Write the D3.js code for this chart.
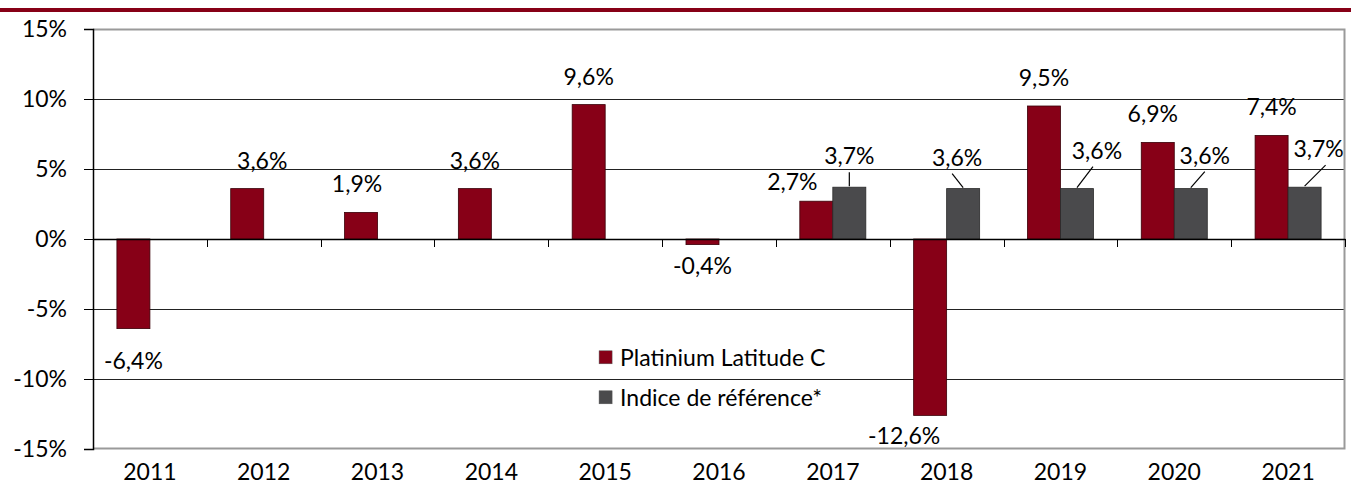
<!DOCTYPE html>
<html>
<head>
<meta charset="utf-8">
<script src="https://cdn.jsdelivr.net/npm/d3@7"></script>
<style>
  body { margin: 0; background: #fff; }
  svg { display: block; font-family: Lato, "DejaVu Sans", sans-serif; }
</style>
</head>
<body>
<div id="chart"></div>
<script>
// data
const years = ["2011", "2012", "2013", "2014", "2015", "2016", "2017", "2018", "2019", "2020", "2021"]
const fundValues = [-6.4, 3.6, 1.9, 3.6, 9.6, -0.4, 2.7, -12.6, 9.5, 6.9, 7.4]
const indexValues = [null, null, null, null, null, null, 3.7, 3.6, 3.6, 3.6, 3.7]
const yTicks = [15, 10, 5, 0, -5, -10, -15]
const seriesNames = ["Platinium Latitude C", "Indice de référence*"]

const red = "#870017", grey = "#4a4a4c"
const fs = 23

// hand placed labels in the original (pixel nudges)
const fundLabelDx = { "2012": 15, "2013": -4, "2017": -24, "2018": -26, "2020": -5 }
const indexLeader = {
    "2017": [0, -15], "2018": [-11, -15], "2019": [16, -22], "2020": [14, -17], "2021": [21, -22]
}
const indexLabelDx = { "2018": 5, "2019": 4, "2021": -7 }

const W = 1351, H = 494
const margin = { top: 29, right: 5, bottom: 45, left: 93 }
const width = W - margin.left - margin.right,
    height = H - margin.top - margin.bottom

const svg = d3.select("#chart").append("svg")
    .attr("width", W).attr("height", H)

// red band at the top
svg.append("rect").attr("x", 0).attr("y", 8).attr("width", W).attr("height", 4).attr("fill", red)

const g = svg.append("g").attr("transform", "translate(" + margin.left + "," + margin.top + ")")

const x = d3.scaleBand().domain(years).range([0, width - 1])
const y = d3.scaleLinear().domain([-15, 15]).range([height, 0])
const bw = x.bandwidth() * 0.29

// gridlines
g.selectAll(".grid").data(yTicks.filter(d => d !== 15 && d !== -15 && d !== 0)).join("line")
    .attr("x1", 0).attr("x2", width - 1)
    .attr("y1", d => Math.round(y(d)) + 0.5).attr("y2", d => Math.round(y(d)) + 0.5)
    .attr("stroke", "#222").attr("stroke-width", 1)

// frame: top, right, bottom in grey
g.append("path")
    .attr("d", `M0,0.5H${width - 1.5}V${height - 0.5}H0`)
    .attr("fill", "none").attr("stroke", "#9a9a9a").attr("stroke-width", 2)

// y axis
const yAxis = g.append("g")
    .call(d3.axisLeft(y).tickValues(yTicks).tickSize(9).tickFormat(d => d + "%"))
yAxis.select(".domain").attr("stroke", "#000").attr("stroke-width", 1.5)
yAxis.selectAll(".tick line").attr("stroke", "#000")
yAxis.selectAll(".tick text").attr("x", -26).attr("font-size", fs).attr("fill", "#000")
    .attr("font-family", "Lato, sans-serif")

// bars
const fund = years.map((yr, i) => ({ yr, v: fundValues[i] }))
const idx = years.map((yr, i) => ({ yr, v: indexValues[i] })).filter(d => d.v !== null)
const cx = yr => x(yr) + x.bandwidth() / 2

g.selectAll(".fund").data(fund).join("rect")
    .attr("x", d => cx(d.yr) - bw)
    .attr("y", d => y(Math.max(0, d.v)))
    .attr("width", bw)
    .attr("height", d => Math.abs(y(d.v) - y(0)))
    .attr("fill", red).attr("stroke", "#3a0008").attr("stroke-width", 0.8)

g.selectAll(".idx").data(idx).join("rect")
    .attr("x", d => cx(d.yr))
    .attr("y", d => y(d.v))
    .attr("width", bw)
    .attr("height", d => y(0) - y(d.v))
    .attr("fill", grey).attr("stroke", "#2a2a2a").attr("stroke-width", 0.8)

// zero line with category ticks
const xAxis = g.append("g").attr("transform", "translate(0," + y(0) + ")")
    .call(d3.axisBottom(x).tickValues([]).tickSizeOuter(0))
xAxis.select(".domain").attr("stroke", "#000").attr("stroke-width", 1.5)
g.selectAll(".sep").data(years.slice(1).concat(["end"])).join("line")
    .attr("x1", (d, i) => Math.round(x.step() * (i + 1)) + 0.5)
    .attr("x2", (d, i) => Math.round(x.step() * (i + 1)) + 0.5)
    .attr("y1", y(0)).attr("y2", y(0) + 8)
    .attr("stroke", "#000")

// year labels
g.selectAll(".year").data(years).join("text")
    .attr("x", d => cx(d)).attr("y", height + 31)
    .attr("text-anchor", "middle").attr("font-size", fs).attr("fill", "#000")
    .text(d => d)

const fmt = v => String(v.toFixed(1)).replace(".", ",") + "%"

// fund labels
g.selectAll(".flab").data(fund).join("text")
    .attr("x", d => cx(d.yr) - bw / 2 + (fundLabelDx[d.yr] || 0))
    .attr("y", d => d.v >= 0 ? y(d.v) - 20 + (d.yr === "2017" ? 9 : 0) : y(d.v) + 29 + (d.yr === "2011" ? 11 : 0))
    .attr("text-anchor", "middle").attr("font-size", fs).attr("fill", "#000")
    .text(d => fmt(d.v))

// index labels with leader lines
g.selectAll(".lead").data(idx).join("line")
    .attr("x1", d => cx(d.yr) + bw / 2 + indexLeader[d.yr][0])
    .attr("y1", d => y(d.v) + indexLeader[d.yr][1])
    .attr("x2", d => cx(d.yr) + bw / 2)
    .attr("y2", d => y(d.v) - 1)
    .attr("stroke", "#000").attr("stroke-width", 1.2)

g.selectAll(".ilab").data(idx).join("text")
    .attr("x", d => cx(d.yr) + bw / 2 + indexLeader[d.yr][0] + (indexLabelDx[d.yr] || 0))
    .attr("y", d => y(d.v) + indexLeader[d.yr][1] - 8)
    .attr("text-anchor", "middle").attr("font-size", fs).attr("fill", "#000")
    .text(d => fmt(d.v))

// legend
const legend = g.append("g").attr("transform", "translate(" + (x("2016") - 63) + "," + (y(-8.2) + 9) + ")")
seriesNames.forEach((name, i) => {
    const row = legend.append("g").attr("transform", "translate(0," + (i * 40) + ")")
    row.append("rect").attr("x", 0).attr("y", -12).attr("width", 13).attr("height", 13)
        .attr("fill", i === 0 ? red : grey).attr("stroke", "#555").attr("stroke-width", 0.5)
    row.append("text").attr("x", 21).attr("y", 3).attr("font-size", fs).attr("fill", "#000").text(name)
})
</script>
</body>
</html>
